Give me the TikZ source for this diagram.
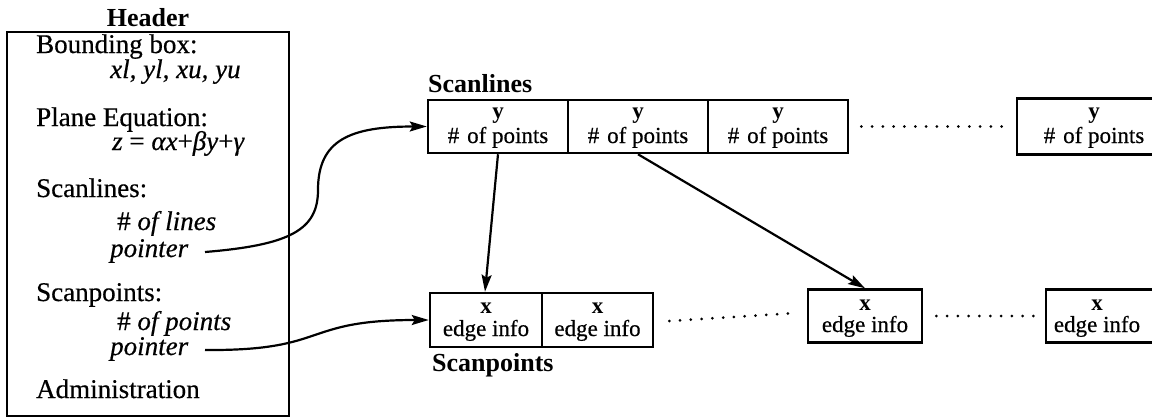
\documentclass[tikz,border=0pt]{standalone}
\usepackage{fontspec}
\setmainfont{Liberation Serif}[
  UprightFeatures={FakeBold=0.5},
  ItalicFeatures={FakeBold=0.5}]
\usetikzlibrary{arrows.meta}

\begin{document}
\begin{tikzpicture}[x=1pt,y=-1pt,
  body/.style={inner sep=0pt, anchor=base west, font=\fontsize{27}{27}\selectfont},
  title/.style={inner sep=0pt, font=\fontsize{26}{26}\selectfont\bfseries},
  celltxt/.style={inner sep=0pt, anchor=base, font=\fontsize{23}{23}\selectfont},
  cell/.style={draw, line width=2.5pt, inner sep=0pt},
  arr/.style={line width=2.2pt, -{Stealth[length=17pt,width=10pt,inset=3pt]}},
  dotline/.style={line width=3pt, line cap=round, dash pattern=on 0pt off 10.8pt}]

\useasboundingbox (0,0) rectangle (1152,418);

% header record
\node[title, anchor=base] (hdrlbl) at (148,26) {Header};
\node[draw, line width=2.6pt, minimum width=282pt, minimum height=384pt, inner sep=0pt] (hdr) at (148,224) {};

\node[body] (bb)   at (36,53)  {Bounding box:};
\node[body] (bbv)  at (110,78) {\itshape xl, yl, xu, yu};
\node[body] (pe)   at (36,126) {Plane Equation:};
\node[body] (pev)  at (112,150) {{\itshape z} = {\itshape αx}+{\itshape βy}+{\itshape γ}};
\node[body] (sl)   at (36,197) {Scanlines:};
\node[body] (sln)  at (117,230) {\# {\itshape of lines}};
\node[body] (slp)  at (110,257) {\itshape pointer};
\node[body] (sp)   at (36,301) {Scanpoints:};
\node[body] (spn)  at (117,330) {\# {\itshape of points}};
\node[body] (spp)  at (110,355) {\itshape pointer};
\node[body] (adm)  at (36,398) {Administration};

\coordinate (p1) at (205,252);
\coordinate (p2) at (205,350);

% scanline array
\node[title, anchor=base west] (sllbl) at (428,92) {Scanlines};
\node[cell, minimum width=140pt, minimum height=53pt] (sl1) at (498,126.5) {};
\node[cell, minimum width=140pt, minimum height=53pt] (sl2) at (638,126.5) {};
\node[cell, minimum width=140pt, minimum height=53pt] (sl3) at (778,126.5) {};
\node[cell, minimum width=154pt, minimum height=56pt] (slN) at (1094,126.5) {};

\foreach \c/\x in {sl1/498, sl2/638, sl3/778, slN/1094} {
  \node[celltxt] (\c y) at (\x,118) {\bfseries y};
  \node[celltxt] (\c n) at (\x,143) {\#\hspace{8pt}of points};
}

% scanpoint array
\node[title, anchor=base west] (splbl) at (432,371) {Scanpoints};
\node[cell, minimum width=112pt, minimum height=54pt] (sp1) at (486,320) {};
\node[cell, minimum width=111pt, minimum height=54pt] (sp2) at (597.5,320) {};
\node[cell, minimum width=114pt, minimum height=53pt] (sp3) at (865,316) {};
\node[cell, minimum width=114pt, minimum height=53pt] (sp4) at (1103,316) {};

\node[celltxt] (sp1x) at (486,313) {\bfseries x};
\node[celltxt] (sp1e) at (486,336) {edge info};
\node[celltxt] (sp2x) at (597.5,313) {\bfseries x};
\node[celltxt] (sp2e) at (597.5,336) {edge info};
\node[celltxt] (sp3x) at (865,310) {\bfseries x};
\node[celltxt] (sp3e) at (865,332) {edge info};
\node[celltxt] (sp4x) at (1097,310) {\bfseries x};
\node[celltxt] (sp4e) at (1097,332) {edge info};

% elided entries
\draw[dotline] ([xshift=12pt]sl3.east) -- ([xshift=-10pt]slN.west);
\draw[dotline] ([xshift=15pt,yshift=-1pt]sp2.east) -- ([xshift=-10pt,yshift=3pt]sp3.west);
\draw[dotline] ([xshift=13pt]sp3.east) -- ([xshift=-11pt]sp4.west);

% pointers
\draw[arr] (p1) .. controls (290,245) and (318,230) .. (318,190)
                .. controls (318,140) and (350,126.5) .. (sl1.west);
\draw[arr] (p2) .. controls (330,351) and (300,320) .. (sp1.west);
\draw[arr] (sl1.south) -- ([xshift=-1pt]sp1.north);
\draw[arr] (sl2.south) -- (sp3.north);

\end{tikzpicture}
\end{document}
